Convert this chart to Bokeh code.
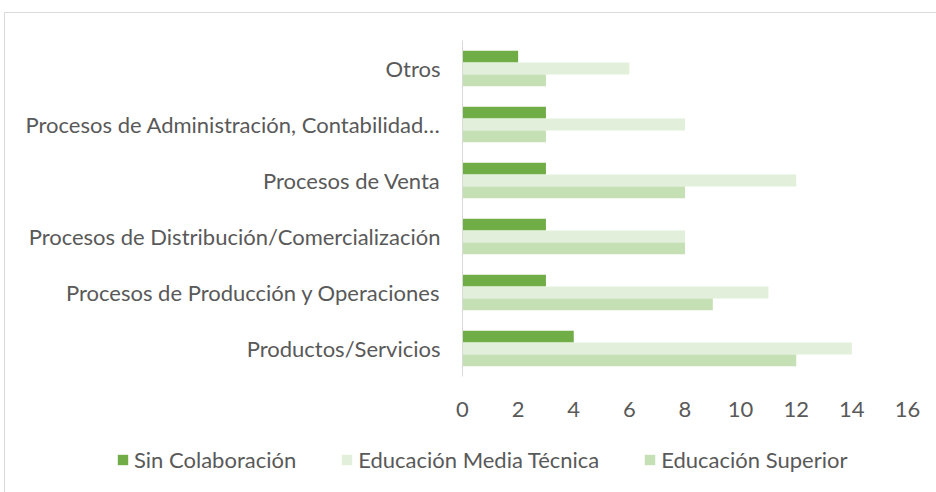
from bokeh.plotting import figure
from bokeh.layouts import column, row
from bokeh.models import FactorRange, Legend, LegendItem, Range1d, FixedTicker
from bokeh.transform import dodge
from bokeh.embed import file_html
from bokeh.resources import INLINE

categories = ["Productos/Servicios",
              "Procesos de Producción y Operaciones",
              "Procesos de Distribución/Comercialización",
              "Procesos de Venta",
              "Procesos de Administración, Contabilidad…",
              "Otros"]
sin_colaboracion = [4, 3, 3, 3, 3, 2]
media_tecnica = [14, 11, 8, 12, 8, 6]
superior = [12, 9, 8, 8, 3, 3]
series_names = ["Sin Colaboración", "Educación Media Técnica", "Educación Superior"]
colors = ["#70AD47", "#E2EFDA", "#C5E0B4"]
x_ticks = [0, 2, 4, 6, 8, 10, 12, 14, 16]

FONT = "Lato"
TXT = "#595959"
FS = "22px"

p = figure(width=931, height=420, output_backend="svg", toolbar_location=None,
           y_range=FactorRange(*categories, range_padding=0),
           x_range=Range1d(0, 16),
           min_border_left=457, min_border_right=29, min_border_top=27, min_border_bottom=57)
p.outline_line_color = None
p.xgrid.grid_line_color = None
p.ygrid.grid_line_color = None

src = dict(cat=categories, a=sin_colaboracion, b=media_tecnica, c=superior)
bh = 0.21
p.hbar(y=dodge("cat", bh, range=p.y_range), right="a", height=bh, source=src,
       color=colors[0], line_color=None)
p.hbar(y=dodge("cat", 0, range=p.y_range), right="b", height=bh, source=src,
       color=colors[1], line_color=None)
p.hbar(y=dodge("cat", -bh, range=p.y_range), right="c", height=bh, source=src,
       color=colors[2], line_color=None)

p.xaxis.ticker = FixedTicker(ticks=x_ticks)
p.xaxis.axis_line_color = None
p.xaxis.major_tick_line_color = None
p.xaxis.minor_tick_line_color = None
p.xaxis.major_label_text_font = FONT
p.xaxis.major_label_text_font_size = FS
p.xaxis.major_label_text_color = TXT
p.xaxis.major_label_standoff = 19

p.yaxis.axis_line_color = "#d9d9d9"
p.yaxis.axis_line_width = 1
p.yaxis.major_tick_line_color = None
p.yaxis.minor_tick_line_color = None
p.yaxis.major_label_text_font = FONT
p.yaxis.major_label_text_font_size = FS
p.yaxis.major_label_text_color = TXT
p.yaxis.major_label_standoff = 16

# legend strip
lg = figure(width=931, height=59, output_backend="svg", toolbar_location=None,
            y_range=FactorRange(*categories), x_range=Range1d(0, 16),
            min_border=0, min_border_left=0, min_border_right=0,
            min_border_top=0, min_border_bottom=0)
lg.axis.visible = False
lg.grid.visible = False
lg.outline_line_color = None
rs = [lg.hbar(y="cat", right=k, height=bh, source=src, color=c, line_color=None, visible=False)
      for k, c in zip(["a", "b", "c"], colors)]
legend = Legend(items=[LegendItem(label=n, renderers=[r]) for n, r in zip(series_names, rs)],
                orientation="horizontal", location=(111, 19),
                glyph_width=13, glyph_height=13, label_standoff=5, spacing=44,
                padding=0, margin=0, border_line_color=None, background_fill_alpha=0,
                label_text_font=FONT, label_text_font_size=FS, label_text_color=TXT)
lg.add_layout(legend, "center")

layout = column(p, row(lg), spacing=0,
                styles={"margin-left": "4px", "margin-top": "12px",
                        "border-left": "1px solid #d9d9d9", "border-top": "1px solid #d9d9d9"})

open("out.html", "w").write(file_html(layout, INLINE))
